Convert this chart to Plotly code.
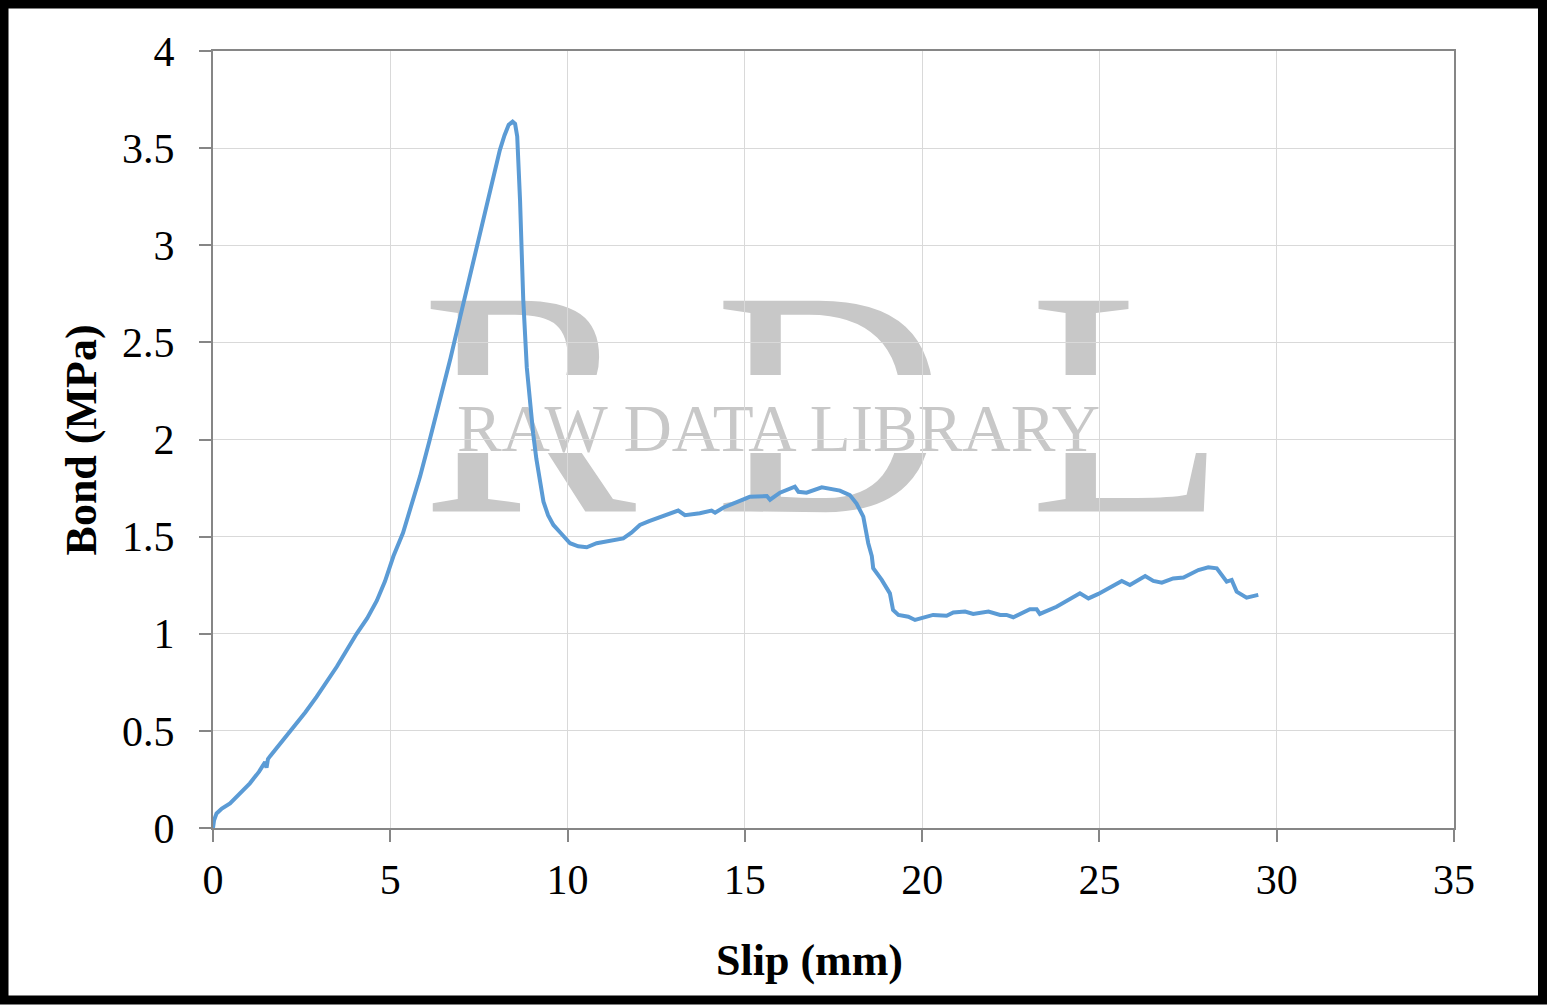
import plotly.graph_objects as go

# ---- data ----
slip_mm = [
    0, 0.03, 0.1, 0.25, 0.48, 0.75, 1.04, 1.30, 1.47, 1.51, 1.55, 1.61, 1.95, 2.27,
    2.60, 2.92, 3.20, 3.49, 3.77, 4.05, 4.35, 4.62, 4.85, 5.09, 5.36, 5.60, 5.84,
    6.10, 6.40, 6.70, 6.97, 7.25, 7.53, 7.80, 8.09, 8.22, 8.34, 8.45, 8.52, 8.58,
    8.63, 8.66, 8.70, 8.75, 8.85, 8.95, 9.03, 9.12, 9.22, 9.32, 9.45, 9.60, 9.80,
    10.07, 10.30, 10.54, 10.82, 11.20, 11.57, 11.80, 12.04, 12.30, 12.61, 12.90,
    13.12, 13.31, 13.73, 14.06, 14.16, 14.40, 14.67, 15.14, 15.62, 15.71, 15.99,
    16.41, 16.51, 16.74, 17.17, 17.68, 17.96, 18.15, 18.34, 18.48, 18.58, 18.62,
    18.86, 19.09, 19.18, 19.33, 19.61, 19.80, 20.31, 20.69, 20.88, 21.21, 21.44,
    21.87, 22.20, 22.38, 22.57, 23.04, 23.23, 23.32, 23.79, 24.45, 24.69, 24.97,
    25.63, 25.86, 26.29, 26.52, 26.76, 27.08, 27.37, 27.79, 28.07, 28.31, 28.59,
    28.73, 28.87, 29.15, 29.48,
]
bond_mpa = [
    0, 0.04, 0.075, 0.10, 0.127, 0.18, 0.23, 0.29, 0.34, 0.31, 0.355, 0.37, 0.445, 0.52,
    0.595, 0.675, 0.75, 0.83, 0.915, 1.0, 1.08, 1.17, 1.27, 1.40, 1.52, 1.66, 1.81,
    1.99, 2.20, 2.42, 2.63, 2.85, 3.06, 3.28, 3.49, 3.565, 3.62, 3.636, 3.625, 3.56,
    3.40, 3.23, 3.00, 2.72, 2.37, 2.15, 2.03, 1.90, 1.80, 1.68, 1.61, 1.56, 1.52,
    1.466, 1.450, 1.445, 1.466, 1.479, 1.491, 1.52, 1.56, 1.58, 1.60, 1.62,
    1.634, 1.61, 1.62, 1.634, 1.623, 1.65, 1.67, 1.705, 1.709, 1.69, 1.726,
    1.757, 1.731, 1.726, 1.754, 1.737, 1.714, 1.67, 1.603, 1.466, 1.40, 1.337,
    1.277, 1.208, 1.122, 1.097, 1.088, 1.071, 1.097, 1.093, 1.110, 1.114, 1.102,
    1.114, 1.097, 1.097, 1.085, 1.126, 1.126, 1.102, 1.139, 1.208, 1.182, 1.205,
    1.272, 1.251, 1.297, 1.272, 1.263, 1.285, 1.29, 1.328, 1.342, 1.337, 1.268,
    1.277, 1.217, 1.186, 1.20,
]

x_title = "Slip (mm)"
y_title = "Bond (MPa)"
watermark_letters = ["R", "D", "L"]
watermark_text = "RAW DATA LIBRARY"

FONT = "Liberation Serif"
WM_COLOR = "#c8c8c8"

fig = go.Figure()
fig.add_trace(go.Scatter(
    x=slip_mm, y=bond_mpa, mode="lines",
    line=dict(color="#5B9BD5", width=4, shape="linear"),
    showlegend=False, hoverinfo="skip",
))

shapes = []
# watermark big letters (below gridlines)
letter_cx = [0.2545, 0.4975, 0.737]
letter_cy = 0.592
for ch, cx in zip(watermark_letters, letter_cx):
    shapes.append(dict(
        type="rect", xref="paper", yref="paper",
        x0=cx - 0.01, x1=cx + 0.01, y0=letter_cy - 0.01, y1=letter_cy + 0.01,
        line=dict(width=0), fillcolor="rgba(0,0,0,0)", layer="below",
        label=dict(text=ch, textposition="middle center",
                   font=dict(family=FONT, size=322, color=WM_COLOR)),
    ))
# white band cutting through the big letters
shapes.append(dict(
    type="rect", xref="paper", yref="paper",
    x0=0.171, x1=0.8155, y0=0.4826, y1=0.583,
    line=dict(width=0), fillcolor="white", layer="below",
))
# small watermark text
shapes.append(dict(
    type="rect", xref="paper", yref="paper",
    x0=0.4457, x1=0.4657, y0=0.5138, y1=0.5338,
    line=dict(width=0), fillcolor="rgba(0,0,0,0)", layer="below",
    label=dict(text=watermark_text, textposition="middle center",
               font=dict(family=FONT, size=67, color=WM_COLOR)),
))
# outer black frame
shapes.append(dict(
    type="rect", xref="paper", yref="paper",
    x0=-0.16841, x1=1.07131, y0=-0.22136, y1=1.06049,
    line=dict(color="black", width=9), fillcolor="rgba(0,0,0,0)", layer="above",
))

axis_common = dict(
    showline=True, mirror=True, linecolor="#868686", linewidth=2,
    showgrid=True, gridcolor="#d9d9d9", gridwidth=1.3,
    zeroline=False, ticks="outside", ticklen=12, tickcolor="#868686", tickwidth=2,
    tickfont=dict(family=FONT, size=42, color="black"),
)

fig.update_layout(
    width=1547, height=1005,
    margin=dict(l=213, r=93, t=51, b=177),
    paper_bgcolor="white", plot_bgcolor="white",
    xaxis=dict(range=[0, 35], dtick=5, tick0=0, ticklabelstandoff=2, **axis_common),
    yaxis=dict(range=[0, 4], dtick=0.5, tick0=0, ticklabelstandoff=16, **axis_common),
    shapes=shapes,
    annotations=[
        dict(text=f"<b>{x_title}</b>", xref="paper", yref="paper", x=0.481, y=-0.170,
             showarrow=False, xanchor="center", yanchor="middle",
             font=dict(family=FONT, size=44, color="black")),
        dict(text=f"<b>{y_title}</b>", xref="paper", yref="paper", x=-0.1056, y=0.5,
             showarrow=False, xanchor="center", yanchor="middle", textangle=-90,
             font=dict(family=FONT, size=44, color="black")),
    ],
)

fig.write_html(
    "out.html",
    config={"displayModeBar": False},
    post_script="document.body.style.margin='0';document.body.style.overflow='hidden';",
)
